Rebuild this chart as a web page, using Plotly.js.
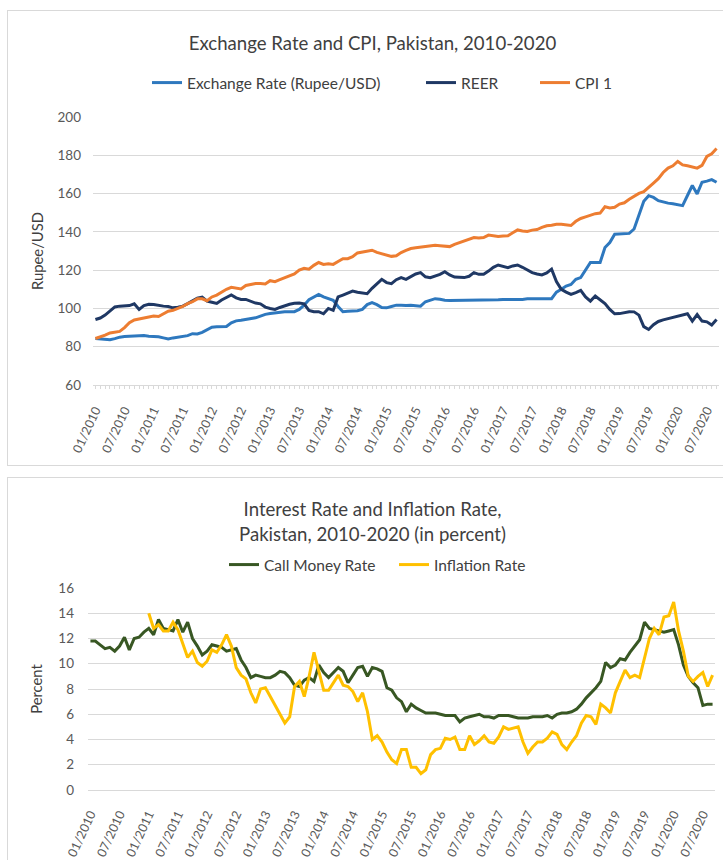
<!DOCTYPE html>
<html>
<head>
<meta charset="utf-8">
<script src="https://cdn.plot.ly/plotly-3.0.1.min.js"></script>
<style>
  html, body { margin: 0; padding: 0; background: #ffffff; }
  body { width: 723px; height: 860px; position: relative; overflow: hidden; }
  .frame { position: absolute; border: 1px solid #D9D9D9; box-sizing: border-box; }
  .plot { position: absolute; }
</style>
</head>
<body>
<div class="frame" style="left:7px; top:10px; width:731px; height:456px;"></div>
<div id="top" class="plot" style="left:8px; top:11px; width:729px; height:454px;"></div>
<div class="frame" style="left:7px; top:477px; width:731px; height:400px;"></div>
<div id="bottom" class="plot" style="left:8px; top:478px; width:729px; height:398px;"></div>
<script>
// ---- data (monthly, 01/2010 .. 09/2020) ----
const startYear = 2010;
const nMonths = 129;
const tickLabels = ["01/2010","07/2010","01/2011","07/2011","01/2012","07/2012","01/2013","07/2013",
  "01/2014","07/2014","01/2015","07/2015","01/2016","07/2016","01/2017","07/2017",
  "01/2018","07/2018","01/2019","07/2019","01/2020","07/2020"];

const exchangeRate = [84.3,84,83.8,83.6,84.2,85,85.3,85.5,85.6,85.8,
  85.8,85.5,85.3,85.2,84.6,84,84.6,85,85.4,85.8,
  86.8,86.7,87.5,89,90.2,90.4,90.5,90.6,92.5,93.5,
  93.8,94.2,94.6,95.1,96,96.9,97.3,97.7,98,98.3,
  98.3,98.3,99.5,101.7,104.5,105.7,107.3,106,105,104.2,
  101,98.3,98.5,98.6,98.8,99.5,102,103,102,100.5,
  100.3,101,101.7,101.7,101.5,101.7,101.4,101.2,103.5,104.2,
  105.1,104.8,104.3,104.2,104.2,104.2,104.3,104.3,104.3,104.4,
  104.4,104.5,104.5,104.5,104.6,104.6,104.6,104.7,104.7,105,
  105.1,105.1,105.1,105.1,105.1,108.5,110,111.7,112.5,115.2,
  116.1,120,124,124,124,131.8,134.4,138.8,139,139,
  139.2,141.5,149,156,158.9,158,156.3,155.5,155,154.7,
  154.2,153.7,159,164.2,159.8,165.9,166.5,167.3,165.9];

const reer = [94.2,95,96.5,98.5,100.8,101.2,101.2,101.5,102.4,99.5,
  101.5,102.2,102.1,101.5,101.2,101,100.3,100.6,101.2,102.5,
  103.8,105.3,105.9,103.8,103.2,102.6,104.4,105.5,107,105.5,
  104.7,104.7,103.6,102.8,102.4,100.7,100,99.5,100.5,101.5,
  102.2,102.7,102.8,102.4,99,98.3,98.3,97.2,100,99,
  106,107,108.2,109.1,108.5,108,107.7,110.5,113,115.2,
  113.5,112.9,115,116.1,115.2,116.5,118,118.7,116.5,116.1,
  117,117.8,119.2,117.5,116.4,116.1,116.1,116.8,118.7,117.8,
  117.8,119.5,121.5,122.7,122,121.3,122.2,122.7,121.5,120,
  118.7,118,117.5,118.5,120.5,114,110,108.5,107.3,108.3,
  109.4,106,103.8,106.5,104.5,102.5,99.5,97.2,97.3,97.7,
  98.3,98.2,96.5,90.5,89,91.5,93.2,94,94.6,95.1,
  95.8,96.6,97.2,93.4,96.8,93.4,93,91.3,94.2];

const cpi = [84.3,85,86,87.2,87.5,88,90,92.5,94,94.5,
  95,95.2,96,95.8,97,98.5,99,100,101,102.5,
  103.5,105,105,104,106,107,108.5,110,111,110.5,
  110.2,112,112.5,113,113,112.8,114.5,114,115,116,
  117,118,120,121,120.5,122.5,124,123,123.3,123,
  124.5,126,126,127,129,129.5,130,130.4,129.3,128.5,
  128,127.2,127.5,129.2,130.3,131.3,131.7,132,132.2,132.4,
  133,132.8,132.7,132.3,133.5,134.4,135,136,137,136.8,
  137,138.3,138,137.6,137.8,138,139.5,141,140.5,140.2,
  140.9,141.2,142.3,143.2,143.5,144,144,143.5,143.3,145.5,
  147,147.8,148.6,149.5,149.8,153.1,152.5,152.8,154.5,155.2,
  157,158.5,160.1,161,163.5,165.5,167.8,171,173.3,174.5,
  176.8,175,174.5,173.8,173.3,174.7,179.4,180.8,183.5];

const callMoneyRate = [11.8,11.8,11.5,11.2,11.3,11,11.4,12.1,11.1,12,
  12.1,12.5,12.8,12.3,13.5,12.8,12.7,12.6,13.5,12.5,
  13.3,12,11.4,10.7,11,11.5,11.4,11.3,11,11.1,
  11.2,10.3,9.7,8.9,9.1,9,8.9,8.9,9.1,9.4,
  9.3,8.9,8.3,8.2,8.7,8.9,8.6,9.9,9.3,8.9,
  9.3,9.7,9.4,8.5,9.1,9.7,9.8,9,9.7,9.6,
  9.4,8.1,7.9,7.3,7,6.2,6.8,6.5,6.3,6.1,
  6.1,6.1,6,5.9,5.9,5.9,5.4,5.7,5.8,5.9,
  6,5.8,5.8,5.7,5.9,5.9,5.9,5.8,5.7,5.7,
  5.7,5.8,5.8,5.8,5.9,5.7,6,6.1,6.1,6.2,
  6.4,6.8,7.3,7.7,8.1,8.6,10.1,9.7,9.9,10.4,
  10.3,10.9,11.4,11.9,13.3,12.8,12.7,12.6,12.5,12.6,
  12.7,11.5,9.9,9,8.5,8.1,6.7,6.8,6.8];

const inflationRate = [null,null,null,null,null,null,null,null,null,null,
  null,null,14,12.8,13.1,12.6,12.6,13.3,12.7,11.6,
  10.5,11,10.1,9.8,10.2,11.1,10.9,11.5,12.3,11.4,
  9.7,9.1,8.8,7.7,6.9,8,8.1,7.4,6.7,6.1,
  5.3,5.8,8.2,8.6,7.4,9,10.9,9.4,7.9,7.9,
  8.5,9.1,8.3,8.2,7.8,7,7.7,6.2,4,4.3,
  3.8,3,2.4,2.1,3.2,3.2,1.8,1.8,1.3,1.6,
  2.8,3.2,3.3,4.1,4,4.2,3.2,3.2,4.3,3.6,
  3.9,4.3,3.8,3.7,4.2,5,4.8,4.9,5,3.8,
  2.9,3.4,3.8,3.8,4.1,4.6,4.4,3.6,3.2,3.8,
  4.3,5.3,5.9,5.8,5.2,6.8,6.5,6.1,7.7,8.6,
  9.5,8.9,9.1,8.9,10.5,12,12.8,12.3,13.7,13.8,
  14.9,12.6,11,9,8.6,9,9.3,8.2,9.1];

// ---- month categories ----
const months = [];
for (let i = 0; i < nMonths; i++) {
  const m = (i % 12) + 1;
  months.push((m < 10 ? "0" + m : "" + m) + "/" + (startYear + Math.floor(i / 12)));
}
const xIdx = months.map((_, i) => i);
const allTickText = months.map(m => tickLabels.indexOf(m) >= 0 ? m : "");
const labelTickVals = tickLabels.map(t => months.indexOf(t));

const FONT = "Lato, 'Liberation Sans', 'DejaVu Sans', sans-serif";
const GRID = "#D9D9D9";
const TXT = "#595959";
const DARK = "#404040";

function legendAt(x, y) {
  return { orientation: "h", xref: "container", yref: "container", x: x, xanchor: "left",
    y: y, yanchor: "middle", font: { family: FONT, size: 15.5, color: DARK },
    bgcolor: "rgba(0,0,0,0)", borderwidth: 0 };
}

// ---- top chart ----
const topTraces = [
  { x: xIdx, y: exchangeRate, name: "Exchange Rate (Rupee/USD)", type: "scatter", mode: "lines",
    line: { color: "#2E78BE", width: 3 }, legend: "legend" },
  { x: xIdx, y: reer, name: "REER", type: "scatter", mode: "lines",
    line: { color: "#1F3864", width: 3 }, legend: "legend2" },
  { x: xIdx, y: cpi, name: "CPI 1", type: "scatter", mode: "lines",
    line: { color: "#ED7D31", width: 3 }, legend: "legend3" }
];
const topLayout = {
  width: 729, height: 454,
  margin: { l: 85, r: 18, t: 106, b: 80 },
  paper_bgcolor: "#ffffff", plot_bgcolor: "#ffffff",
  font: { family: FONT, color: TXT },
  title: { text: "Exchange Rate and CPI, Pakistan, 2010-2020", font: { family: FONT, size: 18.6, color: DARK },
    xref: "container", yref: "container", x: 0.5, xanchor: "center", y: 0.9295, yanchor: "middle" },
  showlegend: true,
  legend: legendAt(0.1907, 0.8414),
  legend2: legendAt(0.5665, 0.8414),
  legend3: legendAt(0.7229, 0.8414),
  xaxis: { range: [-0.5, nMonths - 0.5], tickmode: "array", tickvals: xIdx, ticktext: allTickText,
    tickangle: -65, ticks: "outside", ticklen: 3, tickcolor: GRID, tickwidth: 1,
    tickfont: { family: FONT, size: 12.5, color: TXT }, ticklabelstandoff: 9,
    showgrid: false, zeroline: false, showline: true, linecolor: GRID, linewidth: 1 },
  yaxis: { range: [60, 200], dtick: 20, tick0: 60, showgrid: true, gridcolor: GRID, gridwidth: 1,
    zeroline: false, showline: false, ticks: "", tickfont: { family: FONT, size: 13.5, color: TXT },
    ticklabelstandoff: 11,
    title: { text: "Rupee/USD", font: { family: FONT, size: 14.8, color: DARK }, standoff: 10 } }
};

// ---- bottom chart ----
const botTraces = [
  { x: xIdx, y: callMoneyRate, name: "Call Money Rate", type: "scatter", mode: "lines",
    line: { color: "#385723", width: 3 }, legend: "legend" },
  { x: xIdx, y: inflationRate, name: "Inflation Rate", type: "scatter", mode: "lines",
    line: { color: "#FFC000", width: 3 }, legend: "legend2" }
];
const botLayout = {
  width: 729, height: 398,
  margin: { l: 80, r: 22, t: 110, b: 86 },
  paper_bgcolor: "#ffffff", plot_bgcolor: "#ffffff",
  font: { family: FONT, color: TXT },
  title: { text: "Interest Rate and Inflation Rate,<br>Pakistan, 2010-2020 (in percent)",
    font: { family: FONT, size: 18.6, color: DARK },
    xref: "container", yref: "container", x: 0.5, xanchor: "center", y: 0.9035, yanchor: "middle" },
  showlegend: true,
  legend: legendAt(0.2963, 0.7814),
  legend2: legendAt(0.5295, 0.7814),
  xaxis: { range: [-0.5, nMonths - 0.5], tickmode: "array", tickvals: labelTickVals, ticktext: tickLabels,
    tickangle: -65, ticks: "", tickfont: { family: FONT, size: 12.5, color: TXT }, ticklabelstandoff: 11,
    showgrid: false, zeroline: false, showline: true, linecolor: GRID, linewidth: 1 },
  yaxis: { range: [0, 16], dtick: 2, tick0: 0, showgrid: true, gridcolor: GRID, gridwidth: 1,
    zeroline: false, showline: false, ticks: "", tickfont: { family: FONT, size: 13.5, color: TXT },
    ticklabelstandoff: 13,
    title: { text: "Percent", font: { family: FONT, size: 14.8, color: DARK }, standoff: 12 } }
};

const cfg = { staticPlot: true, displayModeBar: false };
Plotly.newPlot("top", topTraces, topLayout, cfg);
Plotly.newPlot("bottom", botTraces, botLayout, cfg);
</script>
</body>
</html>
